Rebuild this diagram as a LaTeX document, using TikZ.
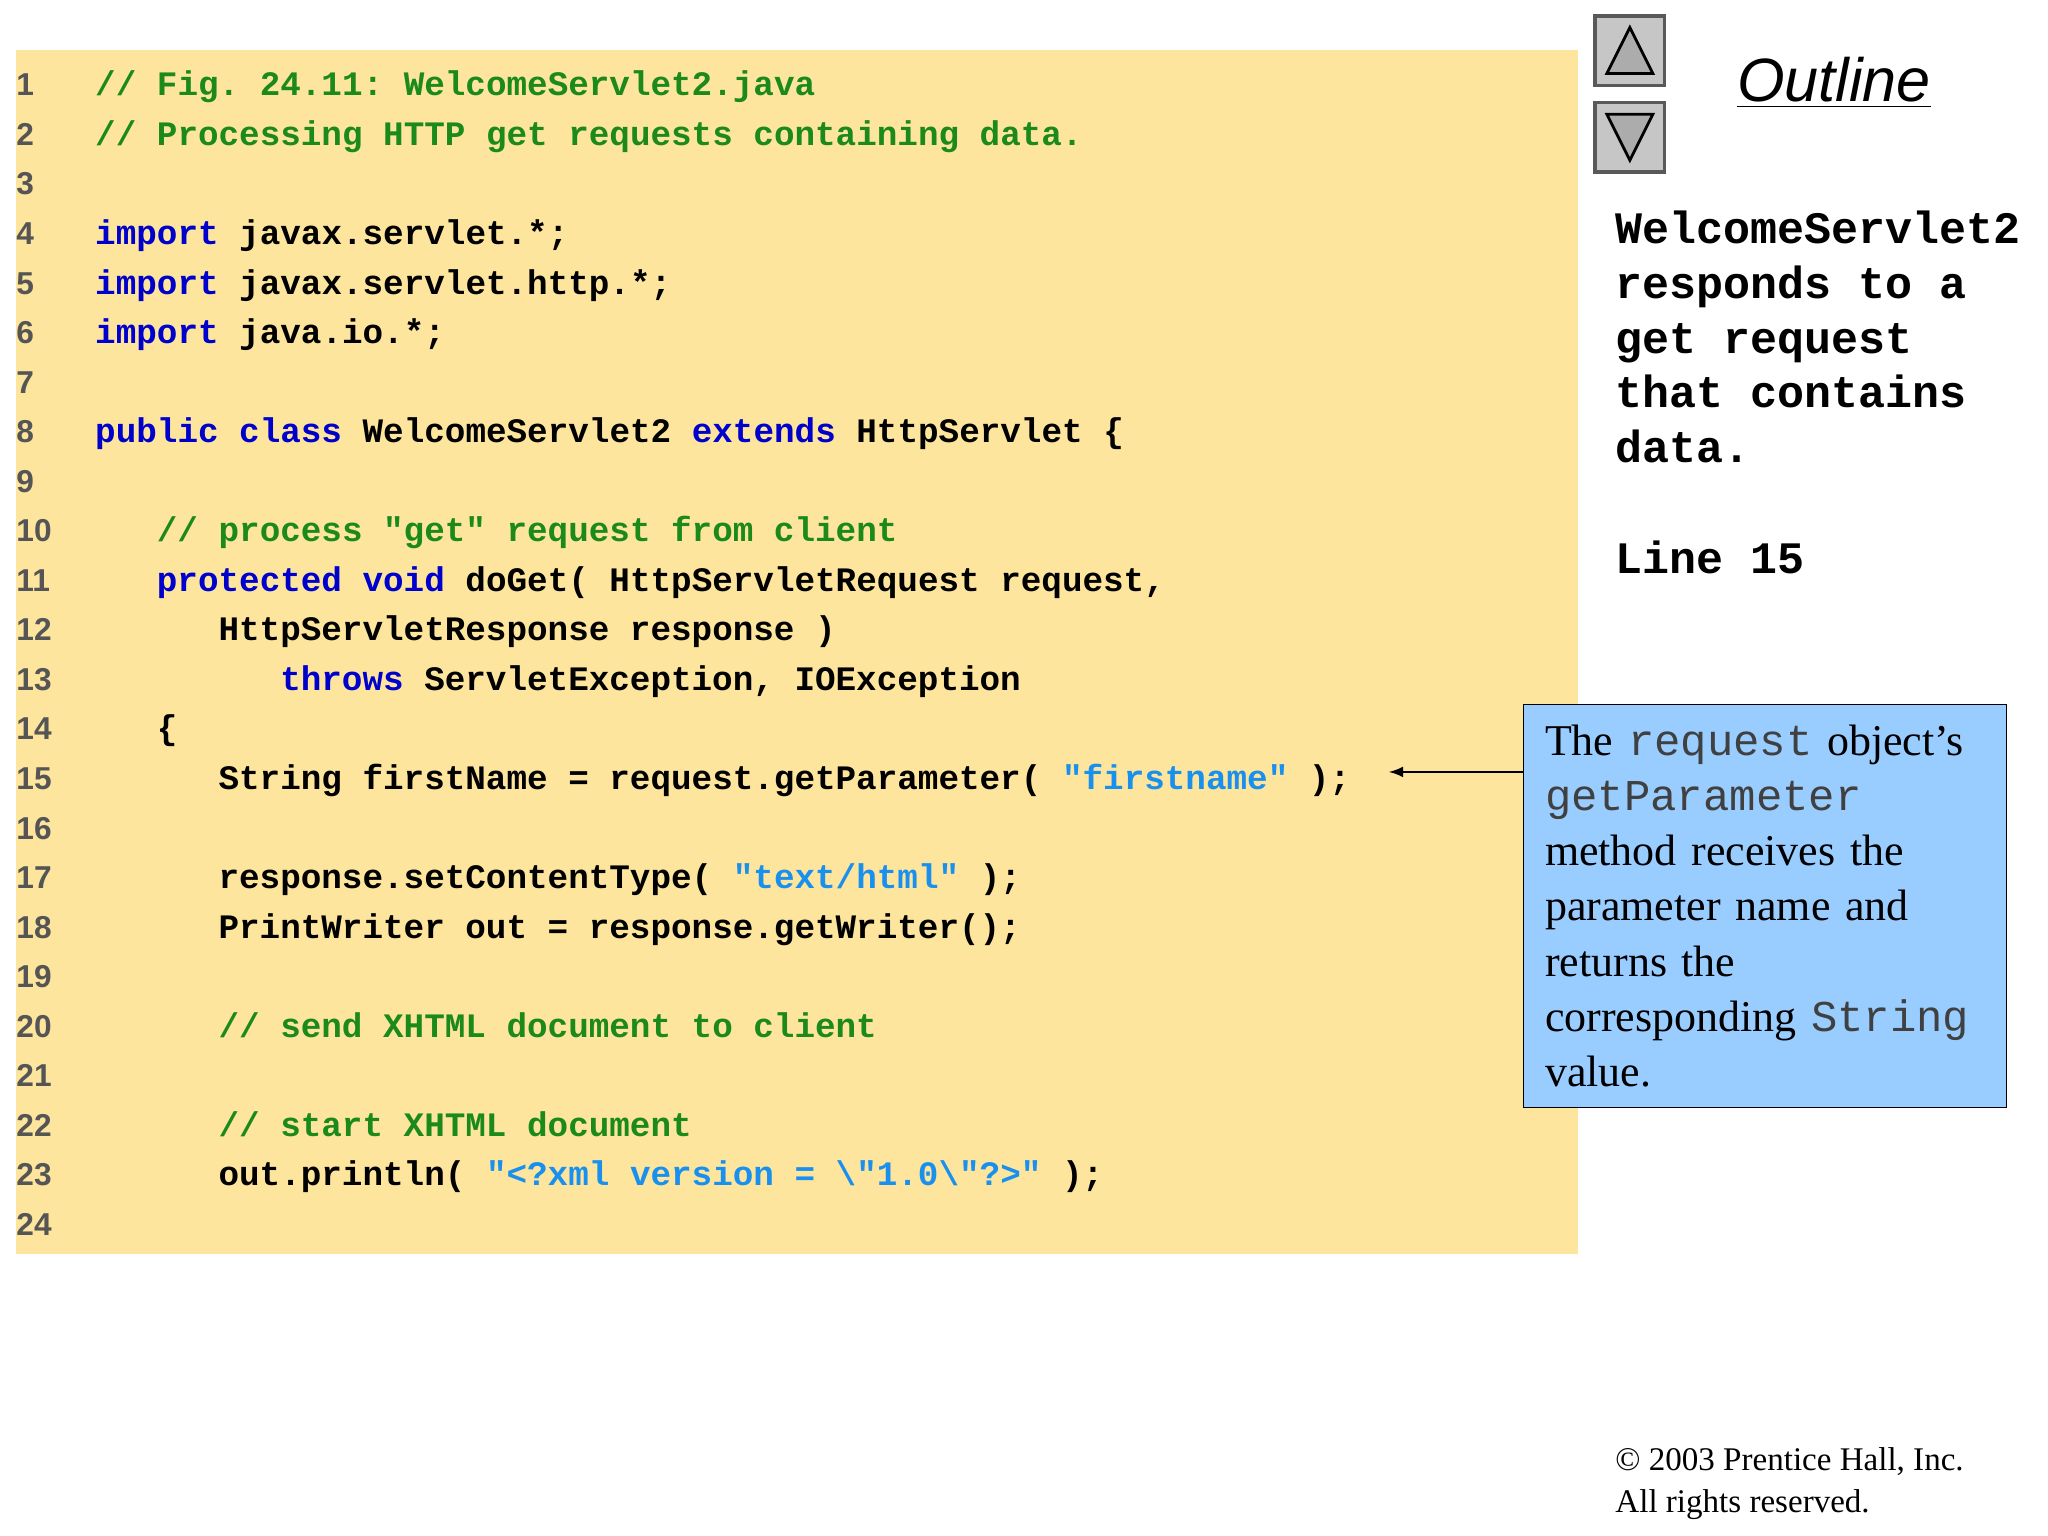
\documentclass[tikz,border=0pt]{standalone}
\usepackage{fontspec}
\setmainfont{Liberation Serif}
\setsansfont{Liberation Sans}
\setmonofont{Liberation Mono}
\definecolor{panel}{HTML}{FDE59D}
\definecolor{notefill}{HTML}{99CCFF}
\definecolor{cmtgreen}{HTML}{1B8A1B}
\definecolor{kwblue}{HTML}{0000CC}
\definecolor{strblue}{HTML}{1A90EE}
\definecolor{numgray}{HTML}{555555}
\newcommand\codefont{\ttfamily\bfseries\fontsize{9.75}{11}\selectfont}
\newcommand\kw[1]{\textcolor{kwblue}{#1}}
\newcommand\cm[1]{\textcolor{cmtgreen}{#1}}
\newcommand\st[1]{\textcolor{strblue}{#1}}
\newcommand\nt[1]{\textcolor{black!75}{\texttt{#1}}}
\newcommand\cl[3]{\node[codeln] (c#1) at ({72+#2*15.66},{73+(#1-1)*37.74}) {#3};}
\begin{document}
\begin{tikzpicture}[x=0.01313cm,y=-0.01313cm,
  codeln/.style={anchor=base west,inner sep=0pt,font=\codefont},
  numln/.style={anchor=base west,inner sep=0pt,text=numgray,font=\sffamily\bfseries\fontsize{9}{10}\selectfont},
  btn/.style={draw=gray!70!black,fill=gray!45,line width=1pt}]
\useasboundingbox (0,0) rectangle (1560,1170);
\fill[panel] (12,38) rectangle (1202,955);
% line numbers
\foreach \n in {1,...,24}
  \node[numln] (n\n) at (12,{73+(\n-1)*37.74}) {\n};
% code
\cl{1}{0}{\cm{// Fig. 24.11: WelcomeServlet2.java}}
\cl{2}{0}{\cm{// Processing HTTP get requests containing data.}}
\cl{4}{0}{\kw{import} javax.servlet.*;}
\cl{5}{0}{\kw{import} javax.servlet.http.*;}
\cl{6}{0}{\kw{import} java.io.*;}
\cl{8}{0}{\kw{public class} WelcomeServlet2 \kw{extends} HttpServlet \{}
\cl{10}{3}{\cm{// process "get" request from client}}
\cl{11}{3}{\kw{protected void} doGet( HttpServletRequest request,}
\cl{12}{6}{HttpServletResponse response )}
\cl{13}{9}{\kw{throws} ServletException, IOException}
\cl{14}{3}{\{}
\cl{15}{6}{String firstName = request.getParameter( \st{"firstname"} );}
\cl{17}{6}{response.setContentType( \st{"text/html"} );}
\cl{18}{6}{PrintWriter out = response.getWriter();}
\cl{20}{6}{\cm{// send XHTML document to client}}
\cl{22}{6}{\cm{// start XHTML document}}
\cl{23}{6}{out.println( \st{"<?xml version = \textbackslash"1.0\textbackslash"?>"} );}
% navigation buttons
\draw[btn] (1215,12) rectangle (1268,65);
\draw[btn] (1215,78) rectangle (1268,131);
\draw[fill=gray!65,line width=0.8pt] (1224,56) -- (1259,56) -- (1241.5,21) -- cycle;
\draw[fill=gray!65,line width=0.8pt] (1224,87) -- (1259,87) -- (1241.5,122) -- cycle;
\node[font=\sffamily\itshape\fontsize{17.4}{20}\selectfont] (outline) at (1397,63) {\underline{Outline}};
% side notes
\node[anchor=north west,inner sep=0pt,align=left,
  font=\ttfamily\bfseries\fontsize{12.8}{15.6}\selectfont] (summary) at (1230,160)
  {WelcomeServlet2\\responds to a\\get request\\that contains\\data.};
\node[anchor=base west,inner sep=0pt,font=\ttfamily\bfseries\fontsize{12.8}{15.6}\selectfont]
  (lineref) at (1230,437) {Line 15};
% callout
\node[draw,fill=notefill,anchor=north west,minimum width=368*0.01313cm,
  minimum height=307*0.01313cm,text width=4.4cm,inner xsep=0.18cm,inner ysep=0.12cm,
  align=left,font=\fontsize{12.5}{15.7}\selectfont] (note) at (1160,536)
  {The \nt{request} object's\\\nt{getParameter}\\method receives the\\parameter name and\\returns the\\corresponding \nt{String}\\value.};
\coordinate (tip) at (1058,588);
\draw[-latex] (note.west |- tip) -- (tip);
% footer
\node[anchor=north west,inner sep=0pt,align=left,font=\fontsize{9.4}{12}\selectfont]
  (copy) at (1230,1102) {\textcopyright{} 2003 Prentice Hall, Inc.\\All rights reserved.};
\end{tikzpicture}
\end{document}
